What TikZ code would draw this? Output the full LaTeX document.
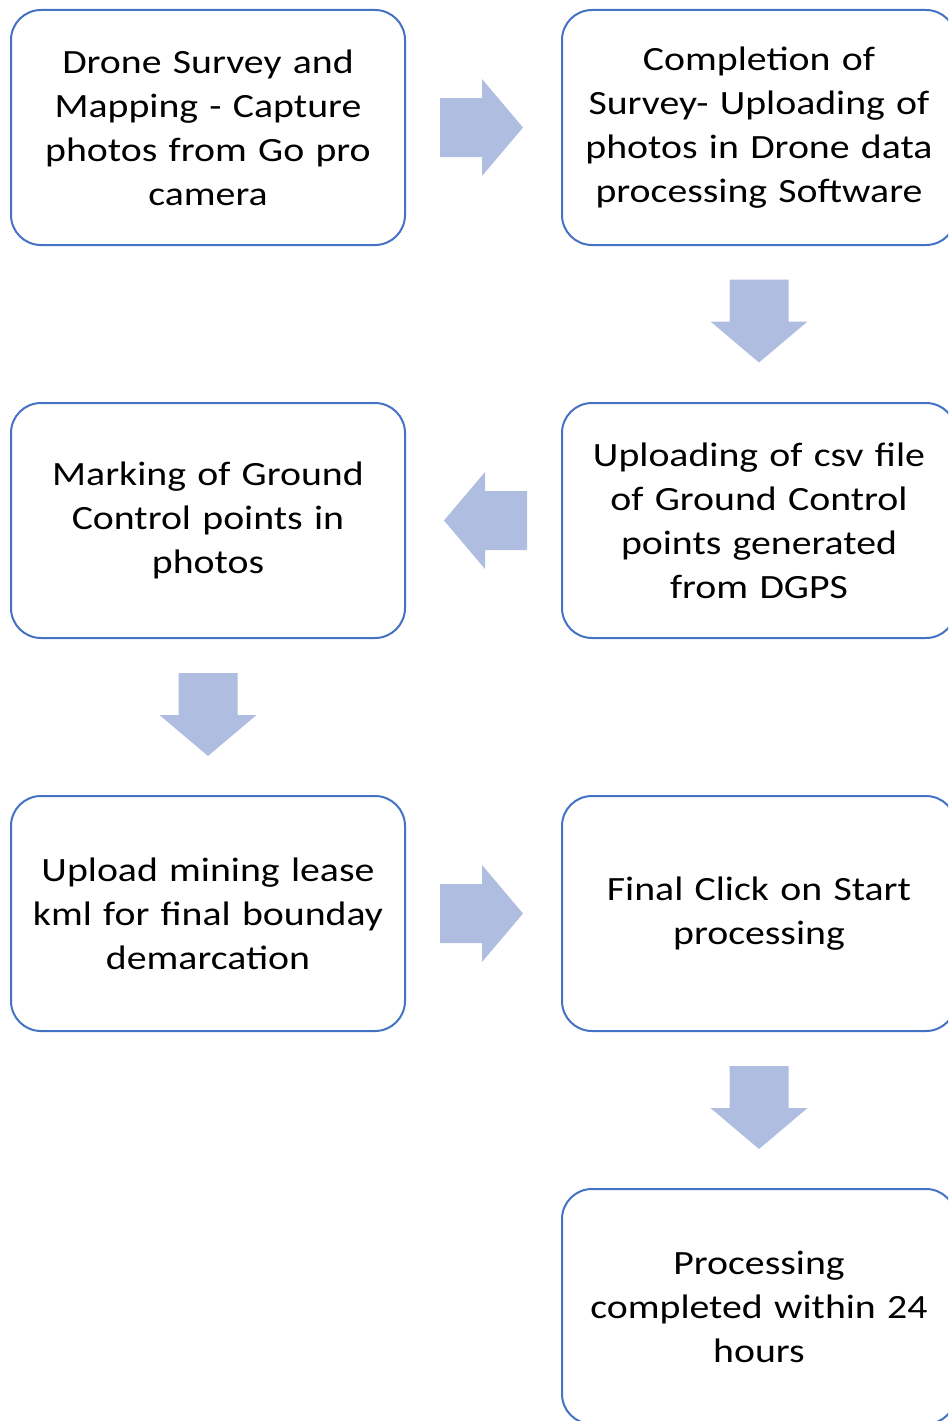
\documentclass[tikz,border=0pt]{standalone}
\usepackage{fontspec}
\setmainfont{Carlito}[FakeStretch=1.17]
\usetikzlibrary{calc}
\definecolor{boxline}{RGB}{68,114,196}
\definecolor{arrowfill}{RGB}{175,189,224}
\tikzset{
  stepbox/.style={draw=boxline, line width=2pt, rounded corners=30pt, fill=white,
    minimum width=394pt, minimum height=235pt, text width=384pt, align=center,
    inner sep=0pt, font=\fontsize{34}{44}\selectfont},
  blockarrow/.pic={\fill[arrowfill] (-41.5,-29.5) -- (0.5,-29.5) -- (0.5,-48.5) -- (41.5,0)
    -- (0.5,48.5) -- (0.5,29.5) -- (-41.5,29.5) -- cycle;}
}
\begin{document}
\begin{tikzpicture}[x=1pt,y=1pt]
\useasboundingbox (0,0) rectangle (948,-1421);
\clip (0,0) rectangle (948,-1421);
\node[stepbox] (n1) at (208,-127.5) {Drone Survey and\\Mapping - Capture\\photos from Go pro\\camera};
\node[stepbox] (n2) at (759,-127.5) {Completion of\\Survey- Uploading of\\photos in Drone data\\processing Software};
\node[stepbox] (n3) at (759,-520.5) {Uploading of csv file\\of Ground Control\\points generated\\from DGPS};
\node[stepbox] (n4) at (208,-520.5) {Marking of Ground\\Control points in\\photos};
\node[stepbox] (n5) at (208,-913.5) {Upload mining lease\\kml for final bounday\\demarcation};
\node[stepbox] (n6) at (759,-913.5) {Final Click on Start\\processing};
\node[stepbox] (n7) at (759,-1306.5) {Processing\\completed within 24\\hours};
\pic at ($(n1.east)!0.5!(n2.west)+(-2,0)$) {blockarrow};
\pic[rotate=-90] at ($(n2.south)!0.5!(n3.north)+(0,3)$) {blockarrow};
\pic[rotate=180] at ($(n3.west)!0.5!(n4.east)+(2,0)$) {blockarrow};
\pic[rotate=-90] at ($(n4.south)!0.5!(n5.north)+(0,2.5)$) {blockarrow};
\pic at ($(n5.east)!0.5!(n6.west)+(-2,0)$) {blockarrow};
\pic[rotate=-90] at ($(n6.south)!0.5!(n7.north)+(0,2.5)$) {blockarrow};
\end{tikzpicture}
\end{document}
